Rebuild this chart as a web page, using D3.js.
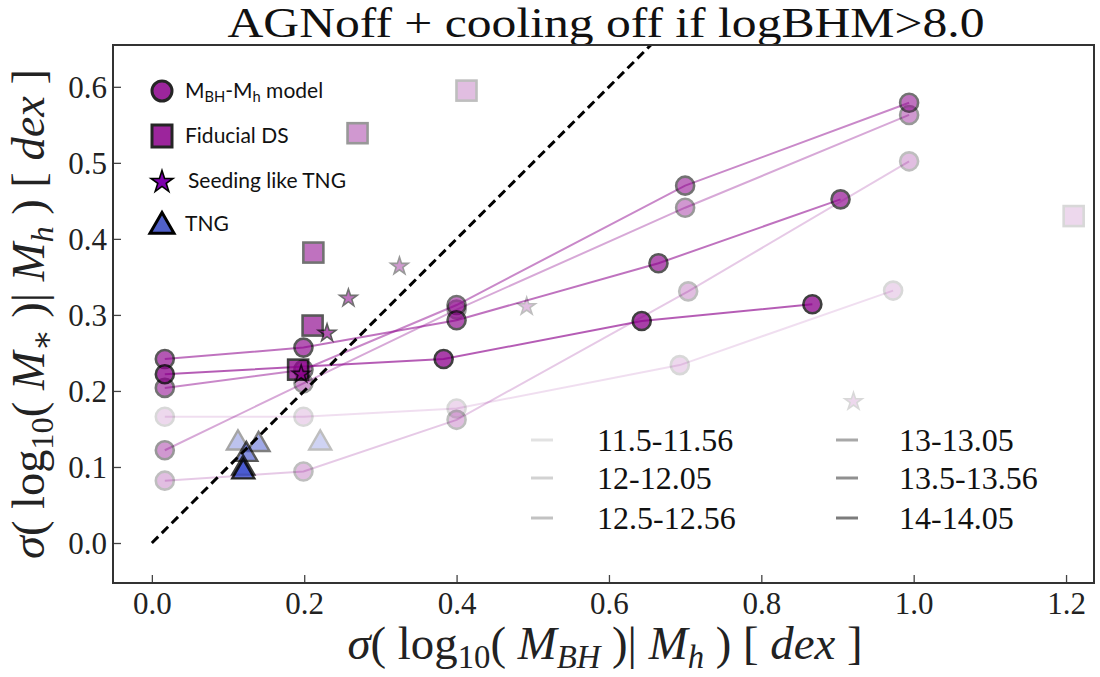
<!DOCTYPE html>
<html><head><meta charset="utf-8">
<script src="https://cdn.jsdelivr.net/npm/d3@7"></script>
<style>body{margin:0;background:#fff} svg{display:block}</style>
</head><body><svg id="c" width="1100" height="677"></svg>
<script>
// ---------- data ----------
const bins = ["11.5-11.56","12-12.05","12.5-12.56","13-13.05","13.5-13.56","14-14.05"];
const binAlpha = [0.15,0.25,0.40,0.55,0.65,0.75];
const legendGray = ["#e2e2e2","#d2d2d2","#c2c2c2","#a8a8a8","#909090","#7c7c7c"];
// M_BH-M_h model (circles joined by lines), one list per bin
const modelX = [
  [0.017,0.199,0.400,0.693,0.973],
  [0.017,0.199,0.400,0.704,0.994],
  [0.017,0.199,0.400,0.700,0.994],
  [0.017,0.199,0.400,0.700,0.994],
  [0.017,0.199,0.400,0.665,0.904],
  [0.017,0.383,0.643,0.867]
];
const modelY = [
  [0.166,0.166,0.177,0.234,0.332],
  [0.082,0.094,0.162,0.331,0.502],
  [0.122,0.210,0.307,0.441,0.563],
  [0.204,0.228,0.313,0.470,0.579],
  [0.242,0.257,0.293,0.368,0.452],
  [0.222,0.242,0.292,0.314]
];
const fiducialX = [1.210,0.413,0.270,0.212,0.211,0.192];
const fiducialY = [0.430,0.595,0.539,0.382,0.286,0.228];
const seedX = [0.921,0.492,0.325,0.258,0.230,0.196];
const seedY = [0.186,0.311,0.364,0.322,0.276,0.222];
const tngX = [0.221,0.113,0.140,0.124,0.120,0.120];
const tngY = [0.133,0.133,0.131,0.118,0.100,0.095];
const xTicks = [0,0.2,0.4,0.6,0.8,1.0,1.2];
const yTicks = [0,0.1,0.2,0.3,0.4,0.5,0.6];
const markerLegend = ["M_BH-M_h model","Fiducial DS","Seeding like TNG","TNG"];
const title = "AGNoff + cooling off if logBHM>8.0";

// ---------- setup ----------
const svg = d3.select("#c");
const L=113, R=1094, T=45, B=583;
const x = d3.scaleLinear().domain([-0.051,1.238]).range([L,R+1]);
const y = d3.scaleLinear().domain([-0.0526,0.655]).range([B,T]);
const purple = "#8B008B", blue = "#4455d0";
const serif = "'Liberation Serif','DejaVu Serif',serif";

// title
svg.append("text").attr("x",606).attr("y",37).attr("text-anchor","middle")
  .attr("font-family",serif).attr("font-size",42).attr("fill","#111")
  .attr("textLength",757).attr("lengthAdjust","spacingAndGlyphs").text(title);

// axes
const fmt = d3.format(".1f");
const gx = svg.append("g").attr("transform",`translate(0,${B})`)
  .call(d3.axisBottom(x).tickValues(xTicks).tickFormat(fmt).tickSizeInner(-8).tickSizeOuter(0).tickPadding(9));
const gy = svg.append("g").attr("transform",`translate(${L},0)`)
  .call(d3.axisLeft(y).tickValues(yTicks).tickFormat(fmt).tickSizeInner(-8).tickSizeOuter(0).tickPadding(6));
[gx,gy].forEach(g=>{
  g.select(".domain").remove();
  g.selectAll("line").attr("stroke","#444").attr("stroke-width",1.3);
  g.selectAll("text").attr("font-family",serif).attr("font-size",31).attr("fill","#222");
});
gy.selectAll("text").attr("dy","0.34em");

// ---------- marks ----------
const plot = svg.append("g");
const line = d3.line().x(d=>x(d[0])).y(d=>y(d[1]));
bins.forEach((b,i)=>{
  const pts = modelX[i].map((v,j)=>[v,modelY[i][j]]);
  plot.append("path").attr("d",line(pts)).attr("fill","none")
    .attr("stroke",purple).attr("stroke-width",2).attr("stroke-opacity",binAlpha[i]*0.85);
  plot.selectAll(null).data(pts).join("circle")
    .attr("cx",d=>x(d[0])).attr("cy",d=>y(d[1])).attr("r",9)
    .attr("fill",purple).attr("stroke","#000").attr("stroke-width",2.6)
    .attr("opacity",binAlpha[i]);
});
// fiducial squares
bins.forEach((b,i)=>{
  plot.append("rect").attr("x",x(fiducialX[i])-10).attr("y",y(fiducialY[i])-10)
    .attr("width",20).attr("height",20).attr("fill",purple)
    .attr("stroke","#000").attr("stroke-width",2.6).attr("opacity",binAlpha[i]);
});
// seeding stars
const star = d3.symbol(d3.symbolStar,95);
bins.forEach((b,i)=>{
  plot.append("path").attr("d",star()).attr("transform",`translate(${x(seedX[i])},${y(seedY[i])})`)
    .attr("fill",purple).attr("stroke","#000").attr("stroke-width",1.6).attr("opacity",binAlpha[i]);
});
// TNG triangles
function triPath(cx,cy,s){const h=s*0.866;return `M${cx},${cy-h*0.6}L${cx+s/2},${cy+h*0.4}L${cx-s/2},${cy+h*0.4}Z`;}
bins.forEach((b,i)=>{
  plot.append("path").attr("d",triPath(x(tngX[i]),y(tngY[i]),22))
    .attr("fill",blue).attr("stroke","#000").attr("stroke-width",2.4).attr("opacity",binAlpha[i]+0.1);
});
// one-to-one dashed line
plot.append("path").attr("d",line([[0,0],[0.655,0.655]])).attr("fill","none")
  .attr("stroke","#000").attr("stroke-width",3).attr("stroke-dasharray","9,5");

// frame
svg.append("rect").attr("x",L).attr("y",T).attr("width",R-L).attr("height",B-T)
  .attr("fill","none").attr("stroke","#333").attr("stroke-width",2);

// ---------- axis labels ----------
function rich(sel, parts, fs){
  sel.selectAll("tspan").remove();
  let shifted=0;
  parts.forEach(p=>{
    const t=sel.append("tspan").text(p.t);
    const target=p.sub?fs*0.2:0;
    t.attr("dy",target-shifted); shifted=target;
    if(p.sub) t.attr("font-size",fs*0.7);
    if(p.it) t.attr("font-style","italic");
  });
}
function fitLabel(sel, parts, fs, target){
  sel.attr("font-size",fs); rich(sel,parts,fs);
  const len=sel.node().getComputedTextLength();
  const f2=fs*target/len; sel.attr("font-size",f2); rich(sel,parts,f2);
}
const xParts=[{t:"σ",it:1},{t:"( log"},{t:"10",sub:1},{t:"( "},{t:"M",it:1},{t:"BH",it:1,sub:1},{t:" )| "},{t:"M",it:1},{t:"h",it:1,sub:1},{t:" ) [ "},{t:"dex",it:1},{t:" ]"}];
const yParts=[{t:"σ",it:1},{t:"( log"},{t:"10",sub:1},{t:"( "},{t:"M",it:1},{t:"∗",sub:1},{t:" )| "},{t:"M",it:1},{t:"h",it:1,sub:1},{t:" ) [ "},{t:"dex",it:1},{t:" ]"}];
const xl=svg.append("text").attr("x",605).attr("y",659).attr("text-anchor","middle")
  .attr("font-family",serif).attr("fill","#222");
fitLabel(xl,xParts,38,515);
const yl=svg.append("text").attr("transform","translate(44,314) rotate(-90)").attr("text-anchor","middle")
  .attr("font-family",serif).attr("fill","#222");
fitLabel(yl,yParts,38,490);

// ---------- marker legend (top-left) ----------
const sans="Lato,'Open Sans',sans-serif";
const lg=svg.append("g");
const lx=162, ly=[91,136,181,224];
lg.append("circle").attr("cx",lx).attr("cy",ly[0]).attr("r",10).attr("fill",purple).attr("stroke","#000").attr("stroke-width",3).attr("opacity",0.85);
lg.append("rect").attr("x",lx-10).attr("y",ly[1]-11).attr("width",20).attr("height",22).attr("fill",purple).attr("stroke","#000").attr("stroke-width",3).attr("opacity",0.85);
lg.append("path").attr("d",d3.symbol(d3.symbolStar,150)()).attr("transform",`translate(${lx},${ly[2]+1})`).attr("fill","#7d00ad").attr("stroke","#000").attr("stroke-width",1.6);
lg.append("path").attr("d",triPath(lx,ly[3]+1,24)).attr("fill","#5060c8").attr("stroke","#000").attr("stroke-width",3);
const fsL=21;
const t0=lg.append("text").attr("x",185).attr("y",ly[0]+7).attr("font-family",sans).attr("font-size",fsL).attr("fill","#111");
rich(t0,[{t:"M"},{t:"BH",sub:1},{t:"-M"},{t:"h",sub:1},{t:" model"}],fsL);
markerLegend.slice(1).forEach((s,i)=>{
  lg.append("text").attr("x",i==1?188:185).attr("y",ly[i+1]+7).attr("font-family",sans).attr("font-size",fsL).attr("fill","#111").text(s);
});

// ---------- mass-bin legend (bottom-right) ----------
const bl=svg.append("g");
bins.forEach((b,i)=>{
  const col=Math.floor(i/3), row=i%3;
  const lx0=col?836:531, tx=col?899:597, yy=[440,478,518][row];
  bl.append("line").attr("x1",lx0).attr("x2",lx0+22).attr("y1",yy).attr("y2",yy)
    .attr("stroke",legendGray[i]).attr("stroke-width",3);
  bl.append("text").attr("x",tx).attr("y",yy+11).attr("font-family",serif).attr("font-size",32).attr("fill","#111").text(b);
});
</script></body></html>
